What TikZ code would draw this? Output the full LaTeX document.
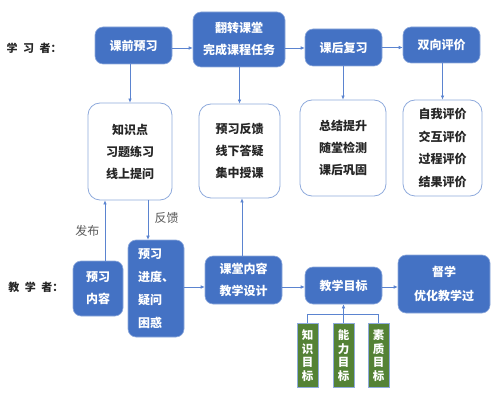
\documentclass[tikz,border=0pt]{standalone}
\usepackage{fontspec}
\newfontfamily\cjk{Noto Sans CJK SC}
\usetikzlibrary{arrows.meta}
\definecolor{bfill}{HTML}{4472C4}
\definecolor{bline}{HTML}{8FAADC}
\definecolor{aline}{HTML}{5B84D0}
\definecolor{gfill}{HTML}{548235}
\definecolor{tdark}{HTML}{262626}
\begin{document}
\begin{tikzpicture}[x=1pt,y=-1pt,
  bluebox/.style={fill=bfill, draw=bline, line width=0.6pt, rounded corners=8pt, text=white,
    font=\cjk\bfseries\fontsize{12}{22}\selectfont, align=center, inner sep=0pt},
  whitebox/.style={fill=white, draw=bline, line width=0.8pt, rounded corners=12pt, text=tdark,
    font=\cjk\bfseries\fontsize{12}{22}\selectfont, align=center, inner sep=0pt},
  greenbox/.style={fill=gfill, draw=bline, line width=0.5pt, text=white,
    font=\cjk\bfseries\fontsize{11.5}{13.5}\selectfont, align=center, inner sep=0pt,
    minimum width=21pt, minimum height=64pt},
  rolelabel/.style={font=\cjk\bfseries\fontsize{11}{13}\selectfont, text=tdark},
  edgelabel/.style={font=\cjk\fontsize{12}{14}\selectfont, text=black!65},
  arr/.style={draw=aline, line width=0.6pt, -{Latex[length=4pt,width=3.5pt]}},
  ln/.style={draw=aline, line width=0.6pt}
]
\useasboundingbox (0,0) rectangle (500,395);
\fill[white] (0,0) rectangle (500,395);

% role labels
\node[rolelabel] (r1) at (34,48) {学\,\,\,习\,\,\,者：};
\node[rolelabel] (r2) at (36,287) {教\,\,\,学\,\,\,者：};

% top row
\node[bluebox, minimum width=77pt, minimum height=37pt] (a) at (133.5,45.5) {课前预习};
\node[bluebox, minimum width=92pt, minimum height=55pt] (b) at (239,39.5) {翻转课堂\\完成课程任务};
\node[bluebox, minimum width=77pt, minimum height=37pt] (c) at (343.5,47.5) {课后复习};
\node[bluebox, minimum width=77pt, minimum height=36pt] (d) at (441.5,45) {双向评价};

% white boxes
\node[whitebox, minimum width=84pt, minimum height=97pt] (k1) at (130,151.5) {知识点\\习题练习\\线上提问};
\node[whitebox, minimum width=81pt, minimum height=94pt] (k2) at (239.5,151) {预习反馈\\线下答疑\\集中授课};
\node[whitebox, minimum width=86pt, minimum height=96pt] (k3) at (343,148) {总结提升\\随堂检测\\课后巩固};
\node[whitebox, minimum width=79pt, minimum height=96pt, font=\cjk\bfseries\fontsize{12}{22.7}\selectfont] (k4) at (442.5,148) {自我评价\\交互评价\\过程评价\\结果评价};

% bottom row
\node[bluebox, minimum width=50pt, minimum height=55pt] (p1) at (98,288.5) {预习\\内容};
\node[bluebox, minimum width=56pt, minimum height=97pt, align=left, font=\cjk\bfseries\fontsize{12}{23}\selectfont] (p2) at (156,288.5) {预习\\进度、\\疑问\\困惑};
\node[bluebox, minimum width=77pt, minimum height=48pt] (p3) at (243.5,280) {课堂内容\\教学设计};
\node[bluebox, minimum width=77pt, minimum height=37pt] (p4) at (343.5,285.5) {教学目标};
\node[bluebox, minimum width=92pt, minimum height=58pt, font=\cjk\bfseries\fontsize{12}{24}\selectfont] (p5) at (444,284) {督学\\优化教学过};

% green boxes
\node[greenbox] (g1) at (307.5,355.5) {知\\识\\目\\标};
\node[greenbox] (g2) at (343.5,355.5) {能\\力\\目\\标};
\node[greenbox] (g3) at (378.5,355.5) {素\\质\\目\\标};

% top horizontal arrows
\draw[arr] ([yshift=-2.5pt]a.east) -- ([yshift=-2.5pt]a.east -| b.west);
\draw[arr] ([yshift=-0.5pt]c.west -| b.east) -- ([yshift=-0.5pt]c.west);
\draw[arr] (c.east) -- (c.east -| d.west);

% top vertical arrows
\draw[arr] (a.south -| k1.north) -- (k1.north);
\draw[arr] (b.south -| k2.north) -- (k2.north);
\draw[arr] (c.south -| k3.north) -- (k3.north);
\draw[arr] (d.south -| k4.north) -- (k4.north);

% teacher-learner links
\coordinate (fb1) at (105,0);
\coordinate (fk1) at (148,0);
\draw[arr] (fb1 |- p1.north) -- (fb1 |- k1.south) node[pos=0.5, left=2pt, edgelabel] (lab1) {发布};
\draw[arr] (fk1 |- k1.south) -- (fk1 |- p2.north) node[pos=0.45, right=3pt, edgelabel] (lab2) {反馈};
\coordinate (up3) at (242,0);
\draw[arr] (up3 |- p3.north) -- (up3 |- k2.south);

% bottom horizontal arrows
\coordinate (hy) at (0,287);
\draw[arr] (hy -| p2.east) -- (hy -| p3.west);
\draw[arr] (hy -| p3.east) -- (hy -| p4.west);
\draw[arr] (hy -| p4.east) -- (hy -| p5.west);

% goals bracket
\coordinate (bk) at (343.5,314);
\draw[ln] (g1.north) -- (g1.north |- bk) -- (g3.north |- bk) -- (g3.north);
\draw[ln] (g2.north) -- (bk);
\draw[arr] (bk) -- (p4.south);
\end{tikzpicture}
\end{document}
